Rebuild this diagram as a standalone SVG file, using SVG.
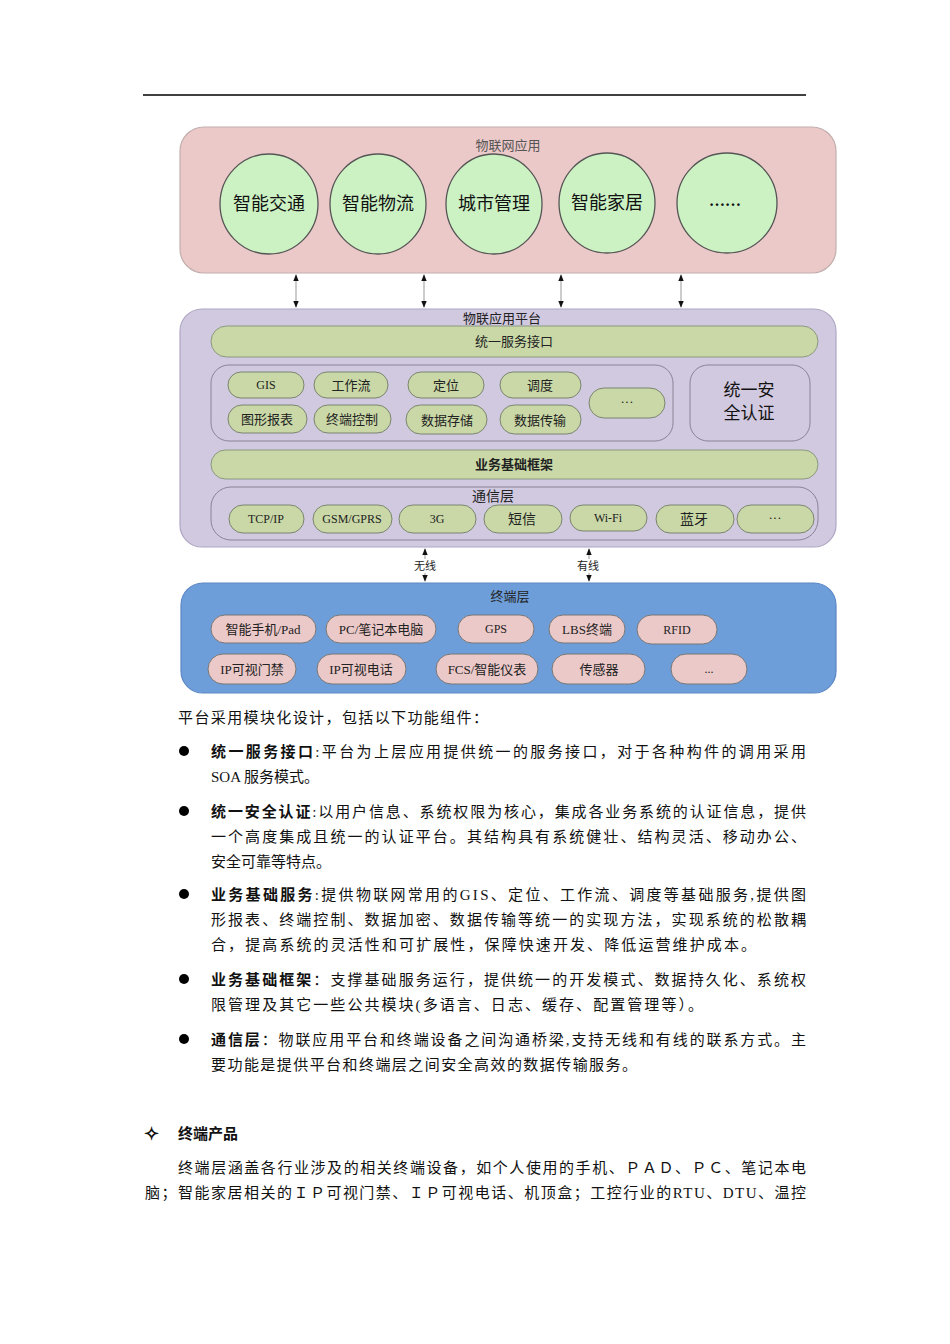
<svg xmlns="http://www.w3.org/2000/svg" width="950" height="1344" viewBox="0 0 950 1344">
<style>
.t{font-family:"Liberation Serif","Noto Sans CJK SC",sans-serif;fill:#111}
.d{font-family:"Liberation Serif","Noto Sans CJK SC",sans-serif;fill:#222;text-anchor:middle;dominant-baseline:central}
.el{fill:#ccf2c4;stroke:#555;stroke-width:1.3}
.bar{fill:#c9d8a6;stroke:#8a9880;stroke-width:1}
.pg{fill:#c9d8a6;stroke:#7a8470;stroke-width:1}
.pp{fill:#ecc9c9;stroke:#777;stroke-width:1}
.cont{fill:none;stroke:#8a8498;stroke-width:1}
.conn{stroke:#999;stroke-width:1;fill:none}
.b{font-weight:bold}
</style>
<defs>
<marker id="ah" viewBox="0 0 10 10" refX="9" refY="5" markerWidth="7" markerHeight="9" orient="auto-start-reverse" markerUnits="userSpaceOnUse">
<path d="M0,1 L10,5 L0,9 z" fill="#111"/>
</marker>
</defs>
<rect width="950" height="1344" fill="#fff"/>
<line x1="143" y1="95" x2="806" y2="95" stroke="#000" stroke-width="1.5"/>

<g id="app-layer">
<rect x="180" y="127" width="656" height="146" rx="24" fill="#ecc9c9" stroke="#c3aeae" stroke-width="1.2"/>
<text class="d" x="508" y="145" font-size="13" style="fill:#555">物联网应用</text>
</g>
<g id="app-jtjt"><ellipse class="el" cx="269" cy="204" rx="49" ry="50"/><text class="d" x="269" y="204" font-size="18" style="fill:#111">智能交通</text></g>
<g id="app-wl"><ellipse class="el" cx="378" cy="204" rx="48" ry="50"/><text class="d" x="378" y="204" font-size="18" style="fill:#111">智能物流</text></g>
<g id="app-city"><ellipse class="el" cx="494" cy="204" rx="48" ry="50"/><text class="d" x="494" y="204" font-size="18" style="fill:#111">城市管理</text></g>
<g id="app-home"><ellipse class="el" cx="607" cy="203" rx="48" ry="50"/><text class="d" x="607" y="203" font-size="18" style="fill:#111">智能家居</text></g>
<g id="app-more"><ellipse class="el" cx="727" cy="203" rx="50" ry="50"/><text class="d" x="725" y="200" font-size="16" style="fill:#111;font-weight:bold">……</text></g>

<g id="platform">
<rect x="180" y="309" width="656" height="238" rx="22" fill="#d1c9df" stroke="#b0a6c4" stroke-width="1.2"/>
<text class="d" x="502" y="318" font-size="13">物联应用平台</text>
</g>
<g id="api"><rect class="bar" x="211" y="326" width="607" height="31" rx="15.5"/><text class="d" x="514" y="341" font-size="13">统一服务接口</text></g>
<g id="services"><rect class="cont" x="211" y="365" width="462" height="76" rx="18"/></g>
<g id="s-gis"><rect class="pg" x="228" y="372" width="76" height="26" rx="13"/><text class="d" x="266" y="385" font-size="12">GIS</text></g>
<g id="s-wf"><rect class="pg" x="314" y="372" width="74" height="26" rx="13"/><text class="d" x="351" y="385" font-size="13">工作流</text></g>
<g id="s-loc"><rect class="pg" x="408" y="372" width="76" height="26" rx="13"/><text class="d" x="446" y="385" font-size="13">定位</text></g>
<g id="s-sch"><rect class="pg" x="500" y="372" width="81" height="26" rx="13"/><text class="d" x="540" y="385" font-size="13">调度</text></g>
<g id="s-rpt"><rect class="pg" x="228" y="405" width="79" height="28" rx="14"/><text class="d" x="267" y="419" font-size="13">图形报表</text></g>
<g id="s-ctl"><rect class="pg" x="314" y="405" width="77" height="28" rx="14"/><text class="d" x="352" y="419" font-size="13">终端控制</text></g>
<g id="s-sto"><rect class="pg" x="406" y="405" width="81" height="29" rx="14.5"/><text class="d" x="447" y="420" font-size="13">数据存储</text></g>
<g id="s-tx"><rect class="pg" x="500" y="405" width="81" height="29" rx="14.5"/><text class="d" x="540" y="420" font-size="13">数据传输</text></g>
<g id="s-more"><rect class="pg" x="589" y="388" width="76" height="30" rx="15"/><text class="d" x="627" y="401" font-size="13">···</text></g>
<g id="auth"><rect class="cont" x="690" y="365" width="120" height="76" rx="18"/><text class="d" x="749" y="390" font-size="17" style="fill:#111">统一安</text><text class="d" x="749" y="413" font-size="17" style="fill:#111">全认证</text></g>
<g id="framework"><rect class="bar" x="211" y="450" width="607" height="29" rx="14.5"/><text class="d" x="514" y="464" font-size="13" style="font-weight:bold">业务基础框架</text></g>
<g id="comm"><rect class="cont" x="211" y="487" width="607" height="53" rx="20"/><text class="d" x="493" y="496" font-size="14">通信层</text></g>
<g id="c-tcp"><rect class="pg" x="229" y="505" width="75" height="28" rx="14"/><text class="d" x="266" y="519" font-size="12">TCP/IP</text></g>
<g id="c-gsm"><rect class="pg" x="313" y="505" width="79" height="28" rx="14"/><text class="d" x="352" y="519" font-size="12">GSM/GPRS</text></g>
<g id="c-3g"><rect class="pg" x="399" y="505" width="77" height="28" rx="14"/><text class="d" x="437" y="519" font-size="12">3G</text></g>
<g id="c-sms"><rect class="pg" x="484" y="505" width="78" height="28" rx="14"/><text class="d" x="522" y="519" font-size="14">短信</text></g>
<g id="c-wifi"><rect class="pg" x="570" y="505" width="77" height="26" rx="13"/><text class="d" x="608" y="518" font-size="12">Wi-Fi</text></g>
<g id="c-bt"><rect class="pg" x="656" y="505" width="78" height="28" rx="14"/><text class="d" x="694" y="519" font-size="14">蓝牙</text></g>
<g id="c-more"><rect class="pg" x="737" y="505" width="77" height="28" rx="14"/><text class="d" x="775" y="517" font-size="13">···</text></g>

<g id="terminal">
<rect x="181" y="583" width="655" height="110" rx="22" fill="#6e9ed9" stroke="#5b87c4" stroke-width="1.2"/>
<text class="d" x="510" y="596" font-size="13">终端层</text>
</g>
<g id="t-phone"><rect class="pp" x="211" y="615" width="105" height="28" rx="14"/><text class="d" x="263" y="629" font-size="13">智能手机/Pad</text></g>
<g id="t-pc"><rect class="pp" x="326" y="615" width="110" height="28" rx="14"/><text class="d" x="381" y="629" font-size="13">PC/笔记本电脑</text></g>
<g id="t-gps"><rect class="pp" x="458" y="615" width="76" height="28" rx="14"/><text class="d" x="496" y="629" font-size="12">GPS</text></g>
<g id="t-lbs"><rect class="pp" x="549" y="615" width="76" height="28" rx="14"/><text class="d" x="587" y="629" font-size="13">LBS终端</text></g>
<g id="t-rfid"><rect class="pp" x="637" y="615" width="80" height="29" rx="14.5"/><text class="d" x="677" y="630" font-size="12">RFID</text></g>
<g id="t-door"><rect class="pp" x="208" y="654" width="88" height="30" rx="15"/><text class="d" x="252" y="669" font-size="13">IP可视门禁</text></g>
<g id="t-tel"><rect class="pp" x="317" y="654" width="89" height="30" rx="15"/><text class="d" x="361" y="669" font-size="13">IP可视电话</text></g>
<g id="t-fcs"><rect class="pp" x="436" y="654" width="102" height="30" rx="15"/><text class="d" x="487" y="669" font-size="13">FCS/智能仪表</text></g>
<g id="t-sensor"><rect class="pp" x="552" y="654" width="93" height="30" rx="15"/><text class="d" x="599" y="669" font-size="13">传感器</text></g>
<g id="t-more"><rect class="pp" x="671" y="654" width="76" height="30" rx="15"/><text class="d" x="709" y="669" font-size="12">...</text></g>

<g id="connectors">
<line class="conn" x1="296" y1="275" x2="296" y2="307" marker-start="url(#ah)" marker-end="url(#ah)"/>
<line class="conn" x1="424" y1="275" x2="424" y2="307" marker-start="url(#ah)" marker-end="url(#ah)"/>
<line class="conn" x1="561" y1="275" x2="561" y2="307" marker-start="url(#ah)" marker-end="url(#ah)"/>
<line class="conn" x1="681" y1="275" x2="681" y2="307" marker-start="url(#ah)" marker-end="url(#ah)"/>
<line class="conn" x1="425" y1="549" x2="425" y2="581" marker-start="url(#ah)" marker-end="url(#ah)"/>
<line class="conn" x1="589" y1="549" x2="589" y2="581" marker-start="url(#ah)" marker-end="url(#ah)"/>
<rect x="413" y="559" width="25" height="14" fill="#fff"/>
<rect x="576" y="559" width="25" height="14" fill="#fff"/>
<text class="d" x="425" y="566" font-size="11">无线</text>
<text class="d" x="588" y="566" font-size="11">有线</text>
</g>

<g id="body" font-size="15">
<text class="t" x="178" y="723" textLength="310">平台采用模块化设计，包括以下功能组件：</text>
<circle cx="184" cy="751" r="5" fill="#000"/>
<text class="t" x="211" y="757" textLength="595"><tspan class="b">统一服务接口</tspan>:平台为上层应用提供统一的服务接口，对于各种构件的调用采用</text>
<text class="t" x="211" y="782">SOA 服务模式。</text>
<circle cx="184" cy="811" r="5" fill="#000"/>
<text class="t" x="211" y="817" textLength="595"><tspan class="b">统一安全认证</tspan>:以用户信息、系统权限为核心，集成各业务系统的认证信息，提供</text>
<text class="t" x="211" y="842" textLength="595">一个高度集成且统一的认证平台。其结构具有系统健壮、结构灵活、移动办公、</text>
<text class="t" x="211" y="867">安全可靠等特点。</text>
<circle cx="184" cy="894" r="5" fill="#000"/>
<text class="t" x="211" y="900" textLength="595"><tspan class="b">业务基础服务</tspan>:提供物联网常用的GIS、定位、工作流、调度等基础服务,提供图</text>
<text class="t" x="211" y="925" textLength="595">形报表、终端控制、数据加密、数据传输等统一的实现方法，实现系统的松散耦</text>
<text class="t" x="211" y="950" textLength="545">合，提高系统的灵活性和可扩展性，保障快速开发、降低运营维护成本。</text>
<circle cx="184" cy="979" r="5" fill="#000"/>
<text class="t" x="211" y="985" textLength="595"><tspan class="b">业务基础框架</tspan>：支撑基础服务运行，提供统一的开发模式、数据持久化、系统权</text>
<text class="t" x="211" y="1010" textLength="492">限管理及其它一些公共模块(多语言、日志、缓存、配置管理等）。</text>
<circle cx="184" cy="1039" r="5" fill="#000"/>
<text class="t" x="211" y="1045" textLength="595"><tspan class="b">通信层</tspan>：物联应用平台和终端设备之间沟通桥梁,支持无线和有线的联系方式。主</text>
<text class="t" x="211" y="1070" textLength="426">要功能是提供平台和终端层之间安全高效的数据传输服务。</text>
<text class="t b" x="144" y="1140" font-size="18">✧</text>
<text class="t b" x="178" y="1139">终端产品</text>
<text class="t" x="178" y="1173" textLength="628">终端层涵盖各行业涉及的相关终端设备，如个人使用的手机、ＰＡＤ、ＰＣ、笔记本电</text>
<text class="t" x="145" y="1198" textLength="661">脑；智能家居相关的ＩＰ可视门禁、ＩＰ可视电话、机顶盒；工控行业的RTU、DTU、温控</text>
</g>
</svg>
